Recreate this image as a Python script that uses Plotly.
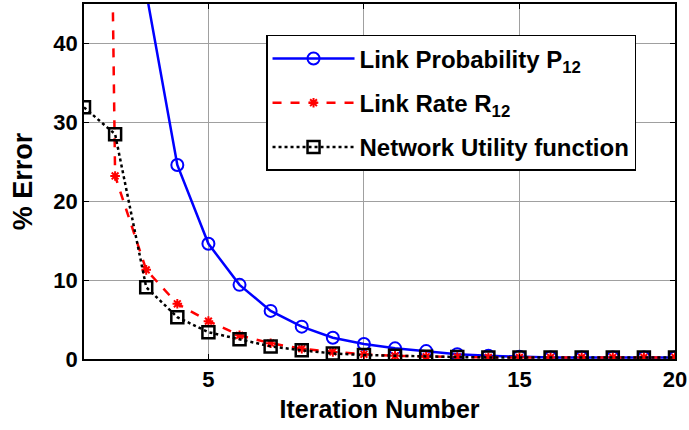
import plotly.graph_objects as go

iterations = list(range(1, 21))
link_prob = [90, 65, 46.5, 24.6, 14.6, 9.4, 6.1, 4.1, 2.7, 1.9, 1.35, 1.0, 0.6, 0.4, 0.3, 0.2, 0.2, 0.2, 0.2, 0.2]
link_rate = [320, 23.2, 11.3, 7.0, 4.8, 3.0, 2.0, 1.3, 0.9, 0.6, 0.4, 0.3, 0.25, 0.2, 0.2, 0.2, 0.2, 0.2, 0.2, 0.2]
utility = [31.9, 28.5, 9.1, 5.3, 3.4, 2.5, 1.6, 1.1, 0.7, 0.5, 0.4, 0.3, 0.25, 0.2, 0.2, 0.2, 0.2, 0.2, 0.2, 0.2]

x_ticks = [5, 10, 15, 20]
y_ticks = [0, 10, 20, 30, 40]

FONT = "Liberation Sans"

fig = go.Figure()
fig.add_trace(go.Scatter(
    x=iterations, y=link_prob, mode="lines+markers",
    name="Link Probability P<sub>12</sub>", legendgroup="a",
    line=dict(color="#0000ff", width=2.5),
    marker=dict(symbol="circle-open", size=12, color="#0000ff", line=dict(width=2)),
))
fig.add_trace(go.Scatter(
    x=iterations, y=link_rate, mode="lines+markers",
    name="Link Rate R<sub>12</sub>", legendgroup="b",
    line=dict(color="#ff0000", width=2.5, dash="dash"),
    marker=dict(symbol="asterisk-open", size=8, color="#ff0000", line=dict(width=2, color="#ff0000")),
))
fig.add_trace(go.Scatter(
    x=iterations, y=utility, mode="lines+markers",
    name="Network Utility function", legendgroup="c",
    line=dict(color="#000000", width=2.5, dash="dot"),
    marker=dict(symbol="square-open", size=12, color="#000000", line=dict(width=2.5)),
))

fig.update_layout(
    width=689, height=430,
    margin=dict(l=84, r=14, t=4, b=71, autoexpand=False),
    paper_bgcolor="white", plot_bgcolor="white",
    font=dict(family=FONT, size=20, color="black", weight="bold"),
    legend=dict(
        x=0.308, y=0.913, xanchor="left", yanchor="top",
        bgcolor="white", bordercolor="black", borderwidth=1.5,
        font=dict(family=FONT, size=24, color="black", weight="bold"),
        itemwidth=82, traceorder="grouped", tracegroupgap=10,
    ),
    showlegend=True,
)
fig.update_xaxes(
    range=[1, 20], tickvals=x_ticks, ticks="inside", ticklen=5, tickcolor="black",
    showgrid=True, gridcolor="#a0a0a0", gridwidth=1,
    showline=True, linecolor="black", linewidth=1.5, mirror="ticks",
    zeroline=False, automargin=False,
    tickfont=dict(family=FONT, size=22, color="black", weight="bold"),
    title=dict(text="Iteration Number", font=dict(family=FONT, size=25, weight="bold"), standoff=9),
)
fig.update_yaxes(
    range=[0, 45], tickvals=y_ticks, ticks="inside", ticklen=5, tickcolor="black",
    showgrid=True, gridcolor="#a0a0a0", gridwidth=1,
    showline=True, linecolor="black", linewidth=1.5, mirror="ticks",
    zeroline=False, automargin=False,
    tickfont=dict(family=FONT, size=22, color="black", weight="bold"),
    title=dict(text="% Error", font=dict(family=FONT, size=27, weight="bold"), standoff=13),
)

fig.write_html("out.html", config={"displayModeBar": False},
               post_script="document.body.style.margin='0';")
